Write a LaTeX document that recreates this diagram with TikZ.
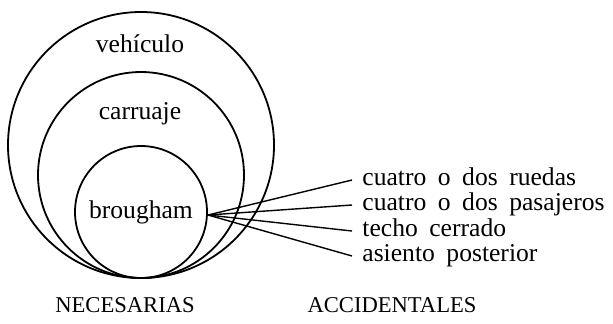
\documentclass[tikz,border=0pt]{standalone}
\usepackage{fontspec}
\setmainfont{Liberation Serif}
\newcommand\traitfont{\fontsize{12.8}{15}\selectfont\spaceskip 0.45em plus 0.1em\relax}
\begin{document}
\begin{tikzpicture}[x=0.5pt,y=-0.5pt,
    ring/.style={black, line width=0.9pt},
    link/.style={black, line width=0.7pt},
    inner/.style={font=\fontsize{12.8}{15}\selectfont},
    trait/.style={anchor=west, inner xsep=5pt, text height=1.6ex, text depth=0.3ex,
      font=\traitfont},
    head/.style={font=\fontsize{11.3}{14}\selectfont}]
      \useasboundingbox (0,0) rectangle (613,323);
      \draw[ring] (141,145) circle (66.5pt);
      \draw[ring] (141,175) circle (51.5pt);
      \draw[ring] (141,212) circle (33pt);
      \node[inner] (vehiculo) at (140,44) {vehículo};
      \node[inner] (carruaje) at (140,114) {carruaje};
      \node[inner] (brougham) at (141,212) {brougham};
      \coordinate (hub) at (208,215);
      \node[trait] (ruedas) at (352,180) {cuatro o dos ruedas};
      \node[trait] (pasajeros) at (352,205) {cuatro o dos pasajeros};
      \node[trait] (techo) at (352,231) {techo cerrado};
      \node[trait] (asiento) at (352,256) {asiento posterior};
      \draw[link] (hub) -- (ruedas.west);
      \draw[link] (hub) -- (pasajeros.west);
      \draw[link] (hub) -- (techo.west);
      \draw[link] (hub) -- (asiento.west);
      \node[head] (necesarias) at (125,305) {NECESARIAS};
      \node[head] (accidentales) at (392,305) {ACCIDENTALES};
\end{tikzpicture}
\end{document}
